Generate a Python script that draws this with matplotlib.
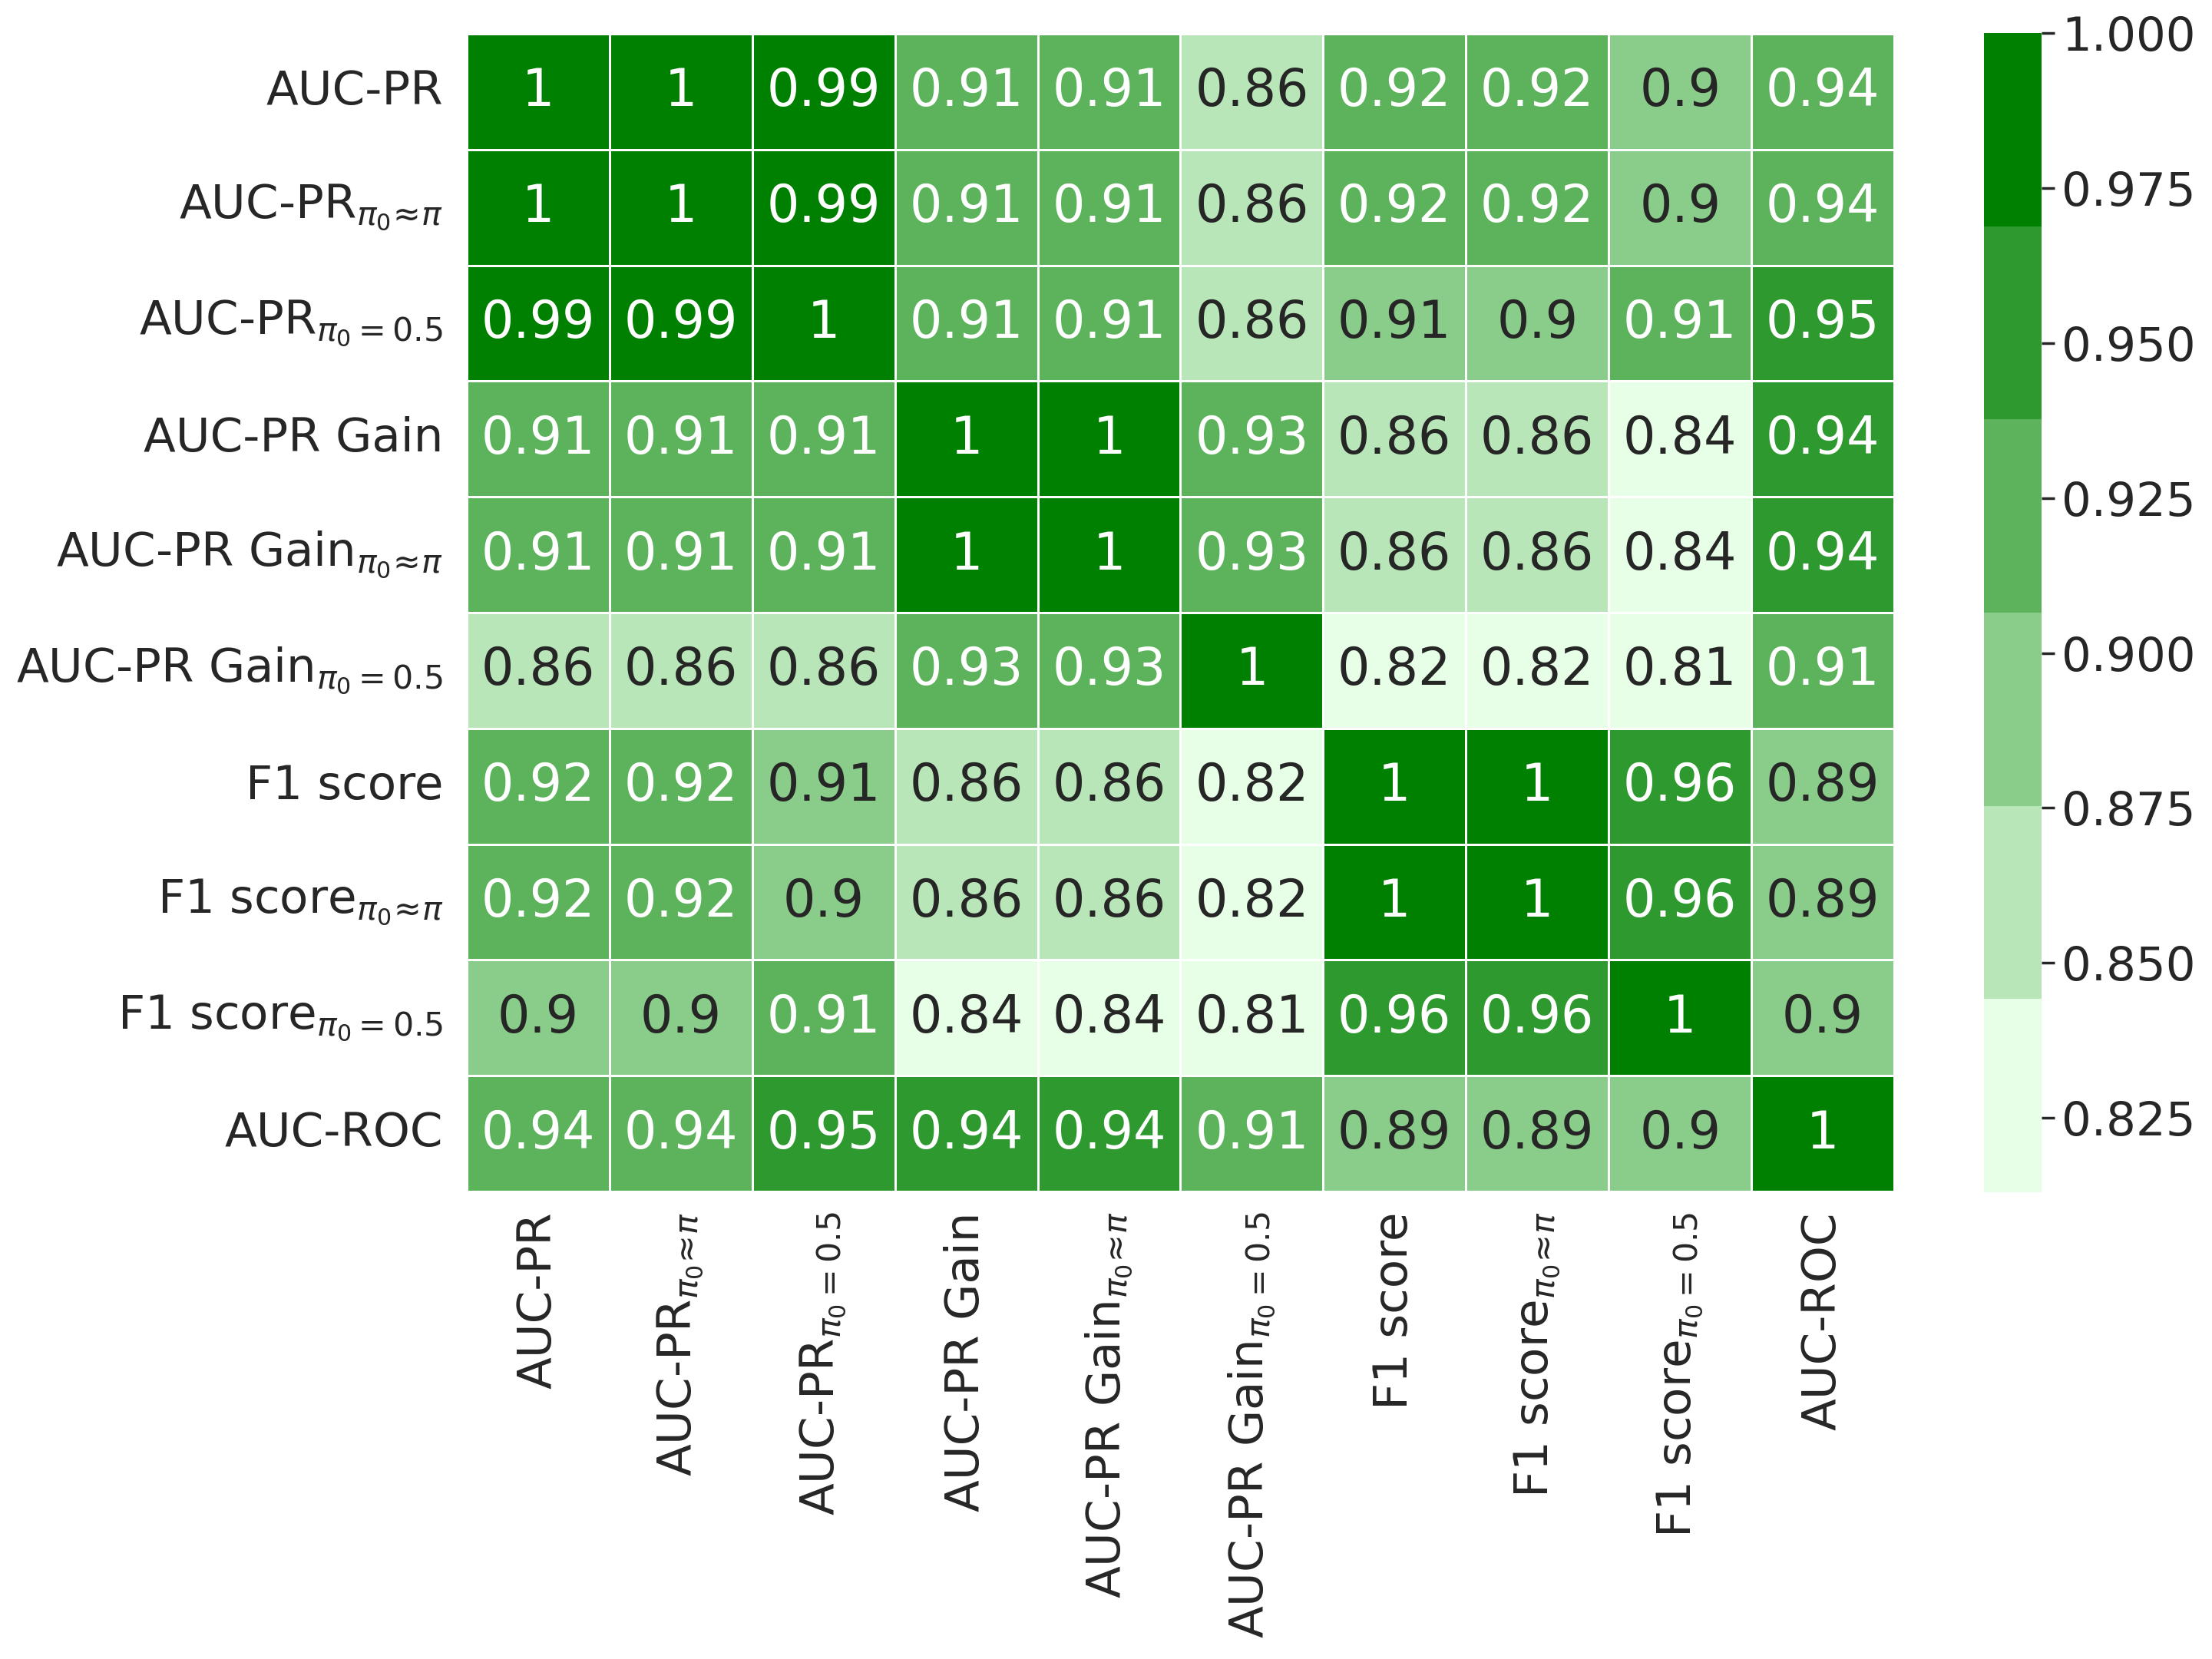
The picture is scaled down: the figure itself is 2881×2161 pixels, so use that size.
import numpy as np
import matplotlib
matplotlib.use("Agg")
import matplotlib.pyplot as plt
from matplotlib.colors import ListedColormap
import seaborn as sns

# metric names (rows == columns)
metrics = [
    "AUC-PR",
    r"AUC-PR$_{\pi_0\!\approx\!\pi}$",
    r"AUC-PR$_{\pi_0 = 0.5}$",
    "AUC-PR Gain",
    r"AUC-PR Gain$_{\pi_0\!\approx\!\pi}$",
    r"AUC-PR Gain$_{\pi_0 = 0.5}$",
    "F1 score",
    r"F1 score$_{\pi_0\!\approx\!\pi}$",
    r"F1 score$_{\pi_0 = 0.5}$",
    "AUC-ROC",
]

# correlation rows (3rd decimal guessed from cell colour)
auc_pr = [1.0, 1.0, 0.99, 0.91, 0.91, 0.86, 0.92, 0.92, 0.90, 0.936]
auc_pr_pi = [1.0, 1.0, 0.99, 0.91, 0.91, 0.86, 0.92, 0.92, 0.90, 0.936]
auc_pr_05 = [0.99, 0.99, 1.0, 0.91, 0.91, 0.86, 0.906, 0.90, 0.91, 0.95]
gain = [0.91, 0.91, 0.91, 1.0, 1.0, 0.93, 0.86, 0.86, 0.84, 0.942]
gain_pi = [0.91, 0.91, 0.91, 1.0, 1.0, 0.93, 0.86, 0.86, 0.84, 0.942]
gain_05 = [0.86, 0.86, 0.86, 0.93, 0.93, 1.0, 0.82, 0.82, 0.813, 0.91]
f1 = [0.92, 0.92, 0.906, 0.86, 0.86, 0.82, 1.0, 1.0, 0.96, 0.89]
f1_pi = [0.92, 0.92, 0.90, 0.86, 0.86, 0.82, 1.0, 1.0, 0.96, 0.89]
f1_05 = [0.90, 0.90, 0.91, 0.84, 0.84, 0.813, 0.96, 0.96, 1.0, 0.90]
auc_roc = [0.936, 0.936, 0.95, 0.942, 0.942, 0.91, 0.89, 0.89, 0.90, 1.0]

corr = np.array([auc_pr, auc_pr_pi, auc_pr_05, gain, gain_pi, gain_05,
                 f1, f1_pi, f1_05, auc_roc])

sns.set_theme(font_scale=2)
plt.rcParams["font.family"] = ["DejaVu Sans"]

# 6-step light -> green palette, linear in rgb
lo = np.array([0.9, 1.0, 0.9])
hi = np.array([0.0, 128 / 255, 0.0])
cmap = ListedColormap([lo + (hi - lo) * t for t in np.linspace(0, 1, 6)])

fig = plt.figure(figsize=(14.405, 10.805), dpi=200)
ax = fig.add_axes([0.2110, 0.2818, 0.6453, 0.6978])
cax = fig.add_axes([0.8969, 0.2813, 0.0260, 0.6988])

sns.heatmap(corr, ax=ax, cbar_ax=cax, cmap=cmap, annot=True,
            linewidths=0.5, linecolor="white",
            xticklabels=metrics, yticklabels=metrics)

ax.tick_params(axis="x", rotation=90, length=0, pad=9.5)
ax.tick_params(axis="y", rotation=0, length=0, pad=11)
cax.tick_params(axis="y", right=True, length=6, width=1.25,
                labelsize=22, color=".15")

fig.savefig("out.png", dpi=200)
